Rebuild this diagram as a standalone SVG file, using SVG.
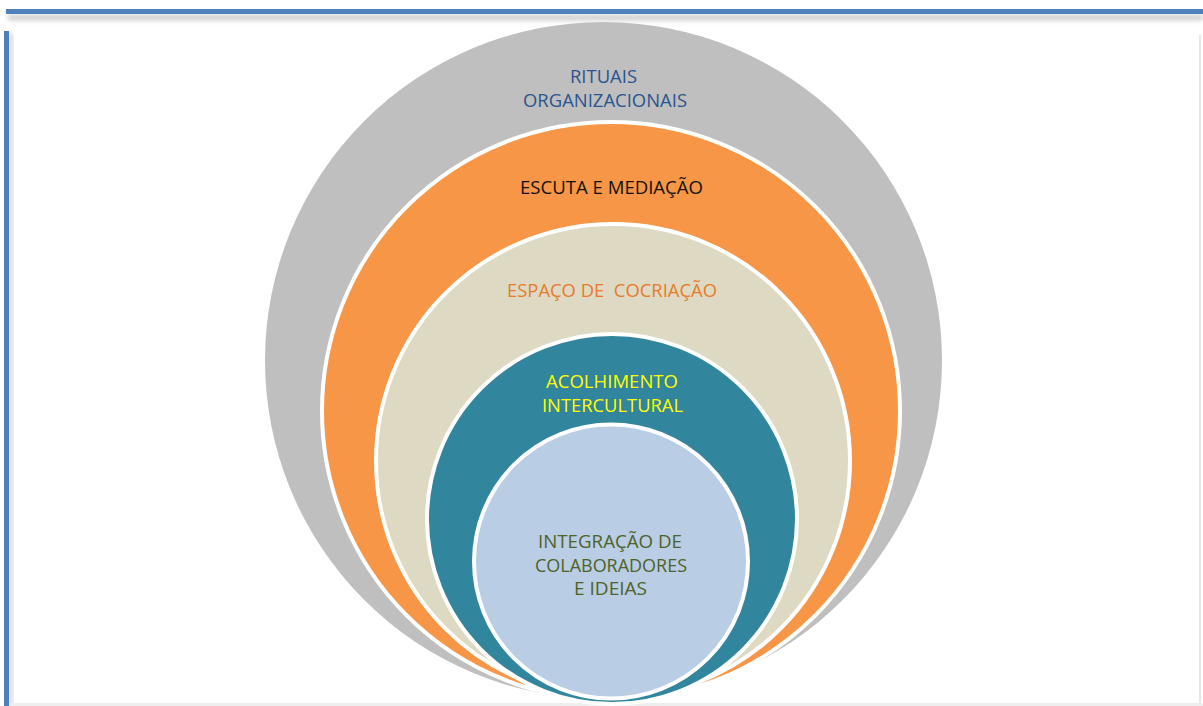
<svg xmlns="http://www.w3.org/2000/svg" width="1203" height="706" viewBox="0 0 1203 706">
  <defs>
    <filter id="shadow" x="-5%" y="-50%" width="110%" height="400%">
      <feGaussianBlur stdDeviation="2.5"/>
    </filter>
    <style>
      .ring { stroke: #FFFFFF; stroke-width: 4; }
      .label { font-family: "Open Sans", "Noto Sans", "Liberation Sans", sans-serif; font-size: 18px; text-anchor: middle; }
    </style>
  </defs>

  <rect width="1203" height="706" fill="#FFFFFF"/>

  <!-- page frame -->
  <g id="frame">
    <rect x="8" y="15" width="1195" height="5" fill="#9A9A9A" opacity="0.55" filter="url(#shadow)"/>
    <rect x="6" y="9" width="1197" height="5" fill="#4F81BD"/>
    <rect x="8" y="33" width="5" height="673" fill="#9A9A9A" opacity="0.4" filter="url(#shadow)"/>
    <rect x="4" y="31" width="5" height="675" fill="#4F81BD"/>
    <rect x="1199" y="35" width="2" height="671" fill="#E6E6E6"/>
    <rect x="10" y="703" width="1193" height="3" fill="#EEEEEE"/>
  </g>

  <!-- nested rings, outermost first -->
  <g id="rituais">
    <circle cx="603.5" cy="360.5" r="338.5" fill="#BFBFBF"/>
    <text class="label" x="603.5" y="83" fill="#2A5590" textLength="67" lengthAdjust="spacingAndGlyphs">RITUAIS</text>
    <text class="label" x="605" y="107" fill="#2A5590" textLength="164" lengthAdjust="spacingAndGlyphs">ORGANIZACIONAIS</text>
  </g>

  <g id="escuta">
    <circle class="ring" cx="611" cy="411" r="289" fill="#F79646"/>
    <text class="label" x="611.5" y="194" fill="#111111" textLength="183" lengthAdjust="spacingAndGlyphs">ESCUTA E MEDIAÇÃO</text>
  </g>

  <g id="espaco">
    <circle class="ring" cx="613" cy="461" r="237" fill="#DDD9C3"/>
    <text class="label" x="612" y="297" fill="#E87B2A" textLength="210" lengthAdjust="spacingAndGlyphs" xml:space="preserve">ESPAÇO DE  COCRIAÇÃO</text>
  </g>

  <g id="acolhimento">
    <circle class="ring" cx="612" cy="519" r="185" fill="#31859C"/>
    <text class="label" x="612" y="388" fill="#FFFF00" textLength="132" lengthAdjust="spacingAndGlyphs">ACOLHIMENTO</text>
    <text class="label" x="612.5" y="412" fill="#FFFF00" textLength="141" lengthAdjust="spacingAndGlyphs">INTERCULTURAL</text>
  </g>

  <g id="integracao">
    <circle class="ring" cx="611" cy="561.5" r="137" fill="#B9CDE5"/>
    <text class="label" x="610" y="548" fill="#4F6228" textLength="144" lengthAdjust="spacingAndGlyphs">INTEGRAÇÃO DE</text>
    <text class="label" x="611" y="572" fill="#4F6228" textLength="152" lengthAdjust="spacingAndGlyphs">COLABORADORES</text>
    <text class="label" x="610.5" y="595" fill="#4F6228" textLength="73" lengthAdjust="spacingAndGlyphs">E IDEIAS</text>
  </g>

  <g id="connectors"/>
</svg>
